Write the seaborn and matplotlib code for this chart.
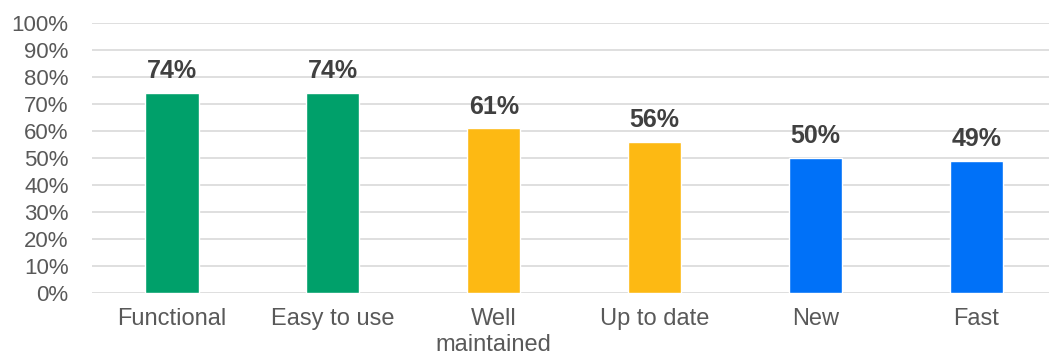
import matplotlib
matplotlib.use("Agg")
import matplotlib.pyplot as plt
import seaborn as sns
import pandas as pd
from matplotlib.ticker import FuncFormatter, MultipleLocator

categories = ["Functional", "Easy to use", "Well\nmaintained", "Up to date", "New", "Fast"]
values = [74, 74, 61, 56, 50, 49]
colors = ["#00A06A", "#00A06A", "#FDB913", "#FDB913", "#0071F8", "#0071F8"]

sns.set_style("white")
plt.rcParams['font.family'] = ['Liberation Sans', 'DejaVu Sans']

df = pd.DataFrame({"cat": categories, "val": values})

fig = plt.figure(figsize=(10.49, 3.59), dpi=100)
left = 91.5
right = 1057.0
ax = fig.add_axes([left/1049, 1 - 293/359, (right - left)/1049, 270/359])

sns.barplot(data=df, x="cat", y="val", hue="cat", palette=colors, legend=False,
            width=0.33, ax=ax, zorder=3, saturation=1)

ax.set_ylim(0, 100)
ax.set_xlim(-0.5, len(categories) - 0.5)
ax.yaxis.set_major_locator(MultipleLocator(10))
ax.yaxis.set_major_formatter(FuncFormatter(lambda v, p: f"{int(v)}%"))
ax.grid(axis="y", color="#D9D9D9", linewidth=1.2, zorder=0)
ax.set_axisbelow(True)
for s in ax.spines.values():
    s.set_visible(False)
ax.set_xlabel("")
ax.set_ylabel("")
ax.tick_params(axis="y", length=0, labelsize=16, labelcolor="#595959", pad=16.5)
ax.tick_params(axis="x", length=0, labelsize=17, labelcolor="#595959", pad=11)
for lbl in ax.get_xticklabels():
    lbl.set_linespacing(1.22)

for i, v in enumerate(values):
    ax.annotate(f"{v}%", xy=(i, v), xytext=(0, 7), textcoords="offset points",
                ha="center", va="bottom", fontsize=18, fontweight="bold",
                color="#404040")

fig.savefig("out.png", dpi=100)
